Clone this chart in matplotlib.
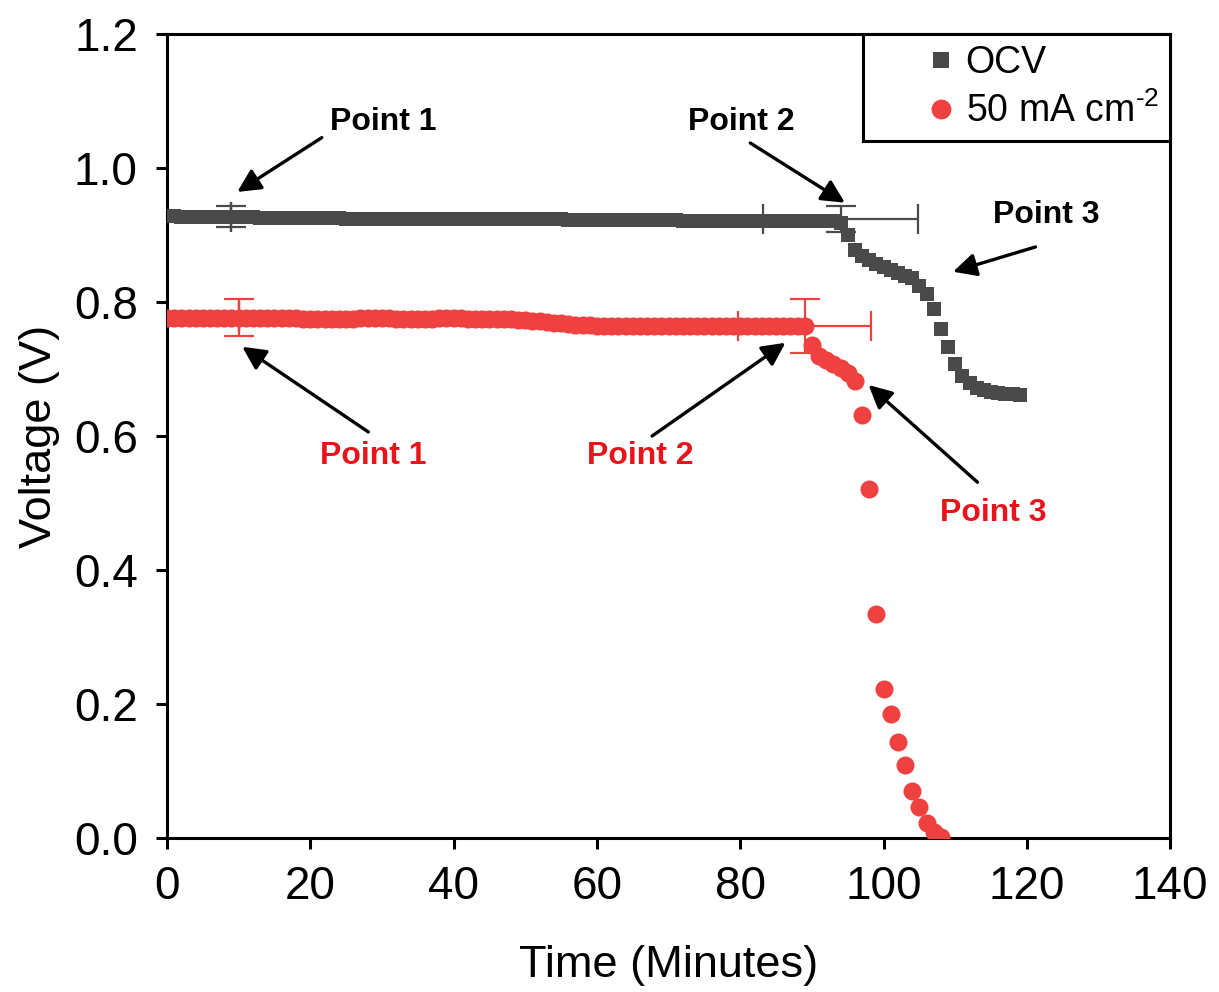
import matplotlib
matplotlib.use("Agg")
import matplotlib.pyplot as plt

plt.rcParams['font.family'] = ['Liberation Sans', 'DejaVu Sans']
plt.rcParams['mathtext.fontset'] = 'custom'
plt.rcParams['mathtext.rm'] = 'Liberation Sans'
plt.rcParams['mathtext.it'] = 'Liberation Sans:italic'
plt.rcParams['mathtext.bf'] = 'Liberation Sans:bold'

# ---------------- data ----------------
ocv_time = list(range(0, 120))
ocv_volt = [
    0.928, 0.928, 0.927, 0.927, 0.927, 0.927, 0.926, 0.926, 0.926, 0.926,   # 0-9
    0.926, 0.926, 0.926, 0.925, 0.925, 0.925, 0.925, 0.925, 0.925, 0.925,   # 10-19
    0.925, 0.925, 0.925, 0.925, 0.925, 0.924, 0.924, 0.924, 0.924, 0.924,   # 20-29
    0.924, 0.924, 0.924, 0.924, 0.924, 0.924, 0.924, 0.924, 0.924, 0.924,   # 30-39
    0.924, 0.923, 0.923, 0.923, 0.923, 0.923, 0.923, 0.923, 0.923, 0.923,   # 40-49
    0.923, 0.923, 0.923, 0.923, 0.923, 0.923, 0.922, 0.922, 0.922, 0.922,   # 50-59
    0.922, 0.922, 0.922, 0.922, 0.922, 0.922, 0.922, 0.922, 0.922, 0.922,   # 60-69
    0.922, 0.922, 0.921, 0.921, 0.921, 0.921, 0.921, 0.921, 0.921, 0.921,   # 70-79
    0.921, 0.921, 0.921, 0.921, 0.921, 0.921, 0.921, 0.921, 0.921, 0.920,   # 80-89
    0.920, 0.920, 0.920, 0.920, 0.918, 0.900, 0.878, 0.868, 0.862, 0.857,   # 90-99
    0.852, 0.847, 0.843, 0.839, 0.835, 0.824, 0.812, 0.790, 0.760, 0.732,   # 100-109
    0.707, 0.690, 0.679, 0.672, 0.668, 0.666, 0.664, 0.663, 0.662, 0.661,   # 110-119
]

cur_time = list(range(0, 109))
cur_volt = [
    0.776, 0.776, 0.776, 0.776, 0.776, 0.776, 0.776, 0.776, 0.776, 0.776,   # 0-9
    0.776, 0.776, 0.776, 0.776, 0.776, 0.776, 0.776, 0.776, 0.776, 0.775,   # 10-19
    0.775, 0.775, 0.775, 0.775, 0.775, 0.775, 0.775, 0.776, 0.776, 0.776,   # 20-29
    0.776, 0.776, 0.775, 0.775, 0.775, 0.775, 0.775, 0.775, 0.776, 0.776,   # 30-39
    0.776, 0.776, 0.775, 0.775, 0.775, 0.775, 0.775, 0.774, 0.774, 0.773,   # 40-49
    0.773, 0.772, 0.771, 0.770, 0.769, 0.768, 0.767, 0.766, 0.765, 0.765,   # 50-59
    0.764, 0.764, 0.764, 0.764, 0.764, 0.764, 0.764, 0.764, 0.764, 0.764,   # 60-69
    0.764, 0.764, 0.764, 0.764, 0.764, 0.764, 0.764, 0.764, 0.764, 0.764,   # 70-79
    0.764, 0.764, 0.764, 0.764, 0.764, 0.764, 0.764, 0.764, 0.764, 0.764,   # 80-89
    0.735, 0.720, 0.714, 0.708, 0.702, 0.694, 0.682, 0.631, 0.521, 0.335,   # 90-99
    0.223, 0.186, 0.143, 0.109, 0.071, 0.046, 0.022, 0.010, 0.002,          # 100-108
]

# error bars: (time, voltage, x error, y error)
ocv_err_t = [9, 94]
ocv_err_v = [0.927, 0.924]
ocv_err_x = [0.0, 10.8]
ocv_err_y = [0.016, 0.019]

cur_err_t = [10, 89]
cur_err_v = [0.777, 0.764]
cur_err_x = [0.0, 9.3]
cur_err_y = [0.028, 0.040]

x_ticks = [0, 20, 40, 60, 80, 100, 120, 140]
y_ticks = [0.0, 0.2, 0.4, 0.6, 0.8, 1.0, 1.2]

# annotations: label, text position, arrow tail, arrow tip, colour
ann_labels = ["Point 1", "Point 2", "Point 3", "Point 1", "Point 2", "Point 3"]
ann_text_xy = [(30.2, 1.069), (80.1, 1.069), (122.7, 0.930),
               (28.8, 0.570), (66.0, 0.570), (115.3, 0.485)]
ann_tail_xy = [(21.6, 1.045), (81.4, 1.037), (121.2, 0.882),
               (28.1, 0.606), (67.7, 0.600), (113.1, 0.531)]
ann_tip_xy = [(9.8, 0.964), (94.6, 0.948), (109.7, 0.845),
              (10.5, 0.733), (86.3, 0.739), (97.9, 0.676)]
ann_colors = ["black", "black", "black", "#e8141a", "#e8141a", "#e8141a"]

GRAY = "#4a4a4a"
RED = "#f04141"

# ---------------- figure ----------------
fig = plt.figure(figsize=(12.19, 9.92), dpi=100)
ax = fig.add_axes([0.137, 0.155, 0.823, 0.811])

ax.plot(ocv_time, ocv_volt, linestyle='none', marker='s', markersize=10.5,
        color=GRAY, markeredgewidth=0, label='OCV', zorder=3)
ax.plot(cur_time, cur_volt, linestyle='none', marker='o', markersize=13,
        color=RED, markeredgewidth=0, label=r'50 mA cm$^{\text{-2}}$', zorder=3)

ax.errorbar(ocv_err_t, ocv_err_v, xerr=ocv_err_x, yerr=ocv_err_y, fmt='none',
            ecolor=GRAY, elinewidth=1.6, capsize=10.8, capthick=1.6, zorder=4)
ax.errorbar(cur_err_t, cur_err_v, xerr=cur_err_x, yerr=cur_err_y, fmt='none',
            ecolor=RED, elinewidth=1.6, capsize=10.8, capthick=1.6, zorder=4)

for lab, txy, tail, tip, col in zip(ann_labels, ann_text_xy, ann_tail_xy, ann_tip_xy, ann_colors):
    ax.text(txy[0], txy[1], lab, color=col, fontsize=23, fontweight='bold',
            ha='center', va='center', zorder=6)
    ax.annotate('', xy=tip, xytext=tail,
                arrowprops=dict(arrowstyle='-|>,head_length=0.7,head_width=0.35',
                                color='black', lw=2.4, shrinkA=0, shrinkB=0,
                                mutation_scale=20),
                zorder=6)

ax.set_xlim(0, 140)
ax.set_ylim(0.0, 1.2)
ax.set_xticks(x_ticks)
ax.set_yticks(y_ticks)
ax.set_xticklabels([str(v) for v in x_ticks])
ax.set_yticklabels([f"{v:.1f}" for v in y_ticks])
ax.tick_params(axis='both', direction='out', length=8, width=2.2,
               labelsize=33, colors='black')
ax.tick_params(axis='x', pad=11)
ax.tick_params(axis='y', pad=13)
for sp in ax.spines.values():
    sp.set_linewidth(2.2)
    sp.set_color('black')

ax.set_xlabel('Time (Minutes)', fontsize=32.5, labelpad=26)
ax.set_ylabel('Voltage (V)', fontsize=32.5, labelpad=10)

leg = ax.legend(loc='upper right', fontsize=27, frameon=True, fancybox=False,
                framealpha=1, edgecolor='black', borderaxespad=0,
                handletextpad=-1.15, handlelength=3.6, borderpad=0.3,
                labelspacing=0.3, markerscale=1.1)
leg.get_frame().set_linewidth(2.2)

fig.savefig('out.png', dpi=100)
